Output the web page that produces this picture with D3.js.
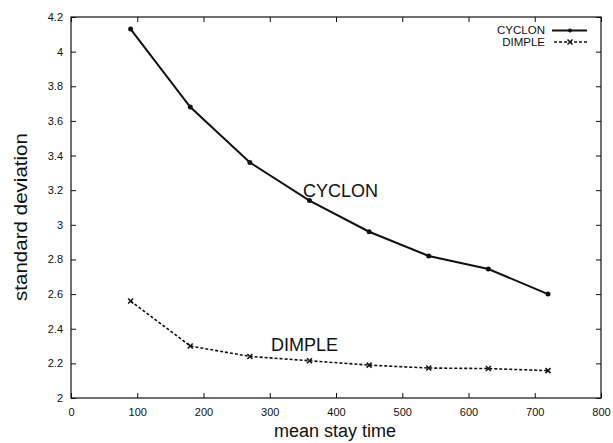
<!DOCTYPE html>
<html>
<head>
<meta charset="utf-8">
<script src="https://cdn.jsdelivr.net/npm/d3@7"></script>
<style>
  body { margin: 0; background: #fff; }
  text { font-family: "Liberation Sans", Arial, sans-serif; fill: #111; }
</style>
</head>
<body>
<svg id="chart" width="613" height="443"></svg>
<script>
// data
const stayTimes = [90, 180, 270, 360, 450, 540, 630, 720];
const cyclonDev = [4.13, 3.68, 3.36, 3.14, 2.96, 2.82, 2.745, 2.60];
const dimpleDev = [2.56, 2.30, 2.24, 2.215, 2.19, 2.173, 2.17, 2.158];
const xTicks = [0, 100, 200, 300, 400, 500, 600, 700, 800];
const yTicks = [2, 2.2, 2.4, 2.6, 2.8, 3, 3.2, 3.4, 3.6, 3.8, 4, 4.2];

const svg = d3.select('#chart');
const plotLeft = 71, plotRight = 601, plotTop = 17, plotBottom = 398;

let x = d3.scaleLinear().domain([0, 800]).range([plotLeft, plotRight]);
let y = d3.scaleLinear().domain([2, 4.2]).range([plotBottom, plotTop]);

// frame
svg.append('rect')
    .attr('x', plotLeft).attr('y', plotTop)
    .attr('width', plotRight - plotLeft).attr('height', plotBottom - plotTop)
    .attr('fill', 'none').attr('stroke', '#111').attr('stroke-width', 1.2);

// ticks (inward, all four sides)
const tick = 5;
svg.append('g').attr('transform', 'translate(0,' + plotBottom + ')')
    .call(d3.axisBottom(x).tickValues(xTicks).tickSize(-tick).tickPadding(10).tickFormat(d3.format('d')))
    .call(g => g.select('.domain').remove())
    .call(g => g.selectAll('text').style('font-size', '11px'));
svg.append('g').attr('transform', 'translate(0,' + plotTop + ')')
    .call(d3.axisTop(x).tickValues(xTicks).tickSize(-tick).tickFormat(''))
    .call(g => g.select('.domain').remove());
svg.append('g').attr('transform', 'translate(' + plotLeft + ',0)')
    .call(d3.axisLeft(y).tickValues(yTicks).tickSize(-tick).tickPadding(8).tickFormat(d => String(+d.toFixed(1))))
    .call(g => g.select('.domain').remove())
    .call(g => g.selectAll('text').style('font-size', '11px'));
svg.append('g').attr('transform', 'translate(' + plotRight + ',0)')
    .call(d3.axisRight(y).tickValues(yTicks).tickSize(-tick).tickFormat(''))
    .call(g => g.select('.domain').remove());
svg.selectAll('.tick line').attr('stroke', '#111');

// axis titles
svg.append('text')
    .attr('x', 335).attr('y', 437)
    .attr('text-anchor', 'middle')
    .style('font-size', '18px')
    .text('mean stay time');
svg.append('text')
    .attr('transform', 'translate(27,217) rotate(-90)')
    .attr('text-anchor', 'middle')
    .style('font-size', '18.5px')
    .attr('textLength', 168)
    .attr('lengthAdjust', 'spacingAndGlyphs')
    .text('standard deviation');

// lines
let line = d3.line().x(d => x(d[0])).y(d => y(d[1]));
let cyc = stayTimes.map((t, i) => [t, cyclonDev[i]]);
let dim = stayTimes.map((t, i) => [t, dimpleDev[i]]);

svg.append('path').datum(cyc).attr('d', line)
    .attr('fill', 'none').attr('stroke', '#111').attr('stroke-width', 2);
svg.append('path').datum(dim).attr('d', line)
    .attr('fill', 'none').attr('stroke', '#111').attr('stroke-width', 1.6)
    .attr('stroke-dasharray', '3,2');

// markers
svg.selectAll('.cmark').data(cyc).enter().append('circle')
    .attr('class', 'cmark')
    .attr('cx', d => x(d[0])).attr('cy', d => y(d[1]))
    .attr('r', 2.5).attr('fill', '#111');

function cross(sel, cx, cy, s) {
    sel.append('path')
        .attr('d', 'M' + (cx - s) + ',' + (cy - s) + 'L' + (cx + s) + ',' + (cy + s) +
                   'M' + (cx - s) + ',' + (cy + s) + 'L' + (cx + s) + ',' + (cy - s))
        .attr('stroke', '#111').attr('stroke-width', 1.5);
}
dim.forEach(d => cross(svg, x(d[0]), y(d[1]), 2.5));

// in-plot labels
svg.append('text').attr('x', 303).attr('y', 197)
    .style('font-size', '18px').text('CYCLON');
svg.append('text').attr('x', 271).attr('y', 351)
    .style('font-size', '18px').text('DIMPLE');

// legend
svg.append('text').attr('x', 545).attr('y', 34).attr('text-anchor', 'end')
    .style('font-size', '11.5px').text('CYCLON');
svg.append('text').attr('x', 545).attr('y', 46).attr('text-anchor', 'end')
    .style('font-size', '11.5px').text('DIMPLE');
svg.append('line').attr('x1', 552).attr('x2', 587).attr('y1', 30.5).attr('y2', 30.5)
    .attr('stroke', '#111').attr('stroke-width', 2);
svg.append('circle').attr('cx', 570).attr('cy', 30.5).attr('r', 2).attr('fill', '#111');
svg.append('line').attr('x1', 554).attr('x2', 587).attr('y1', 42).attr('y2', 42)
    .attr('stroke', '#111').attr('stroke-width', 1.4).attr('stroke-dasharray', '3,2');
cross(svg, 570, 42, 2.5);
</script>
</body>
</html>
